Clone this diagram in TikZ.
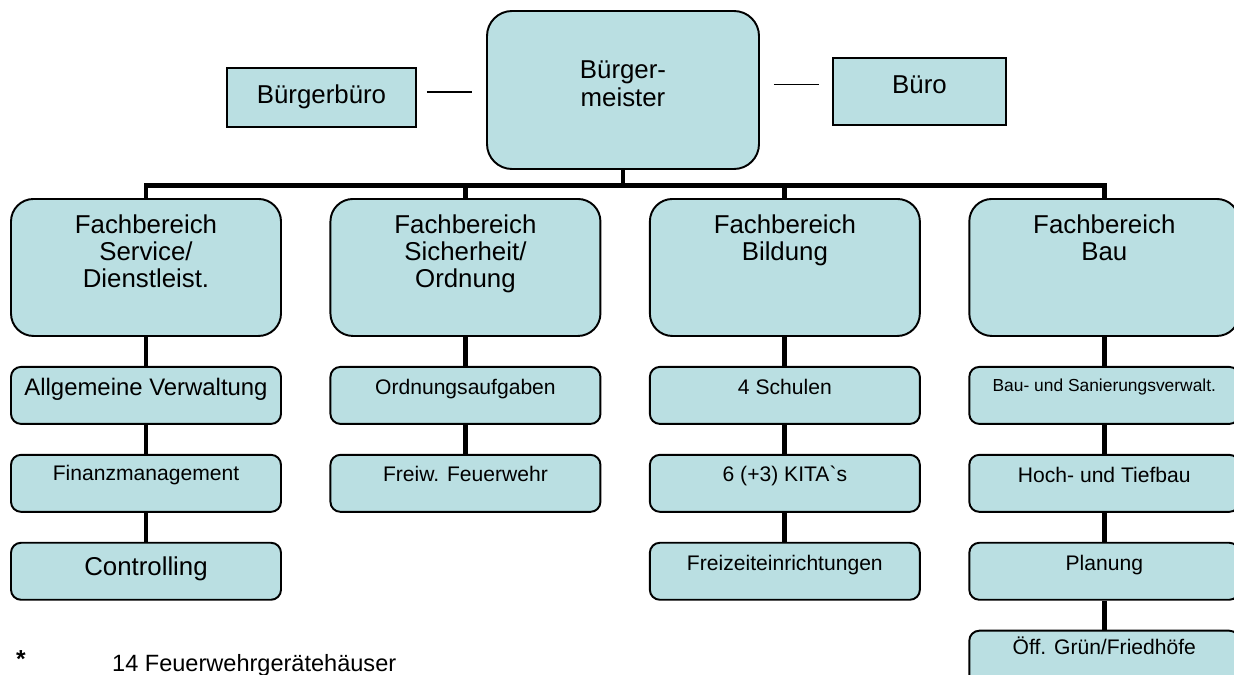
\documentclass[tikz,border=0pt]{standalone}
\usepackage{fontspec}
\setmainfont{Liberation Sans}
\usetikzlibrary{positioning}

\definecolor{boxfill}{RGB}{186,223,226}
\newcommand{\zeilen}[1]{\begin{tabular}[t]{@{}c@{}}#1\end{tabular}}

\begin{document}
\begin{tikzpicture}[
  box/.style={draw, fill=boxfill, line width=1.1pt, inner sep=0pt},
  chef/.style={box, rounded corners=0.5cm, minimum width=5.44cm,
    font=\fontsize{14.7}{16.4}\selectfont, text height=1.34cm, text depth=1.82cm},
  stab/.style={box, font=\fontsize{14.7}{16}\selectfont},
  fb/.style={box, rounded corners=0.45cm, minimum width=5.40cm,
    font=\fontsize{14.7}{15.3}\selectfont, text height=0.70cm, text depth=2.04cm},
  sub/.style={box, rounded corners=0.2cm, minimum width=5.40cm,
    font=\fontsize{12}{14}\selectfont, text height=0.56cm, text depth=0.58cm},
  bus/.style={line width=2.8pt},
  link/.style={line width=0.8pt}]

  \useasboundingbox (0,0) rectangle (24.68,-13.48);

  \node[chef] (bm) at (12.46,-1.80) {\zeilen{Bürger-\\meister}};
  \node[stab, minimum width=3.78cm, text height=0.70cm, text depth=0.48cm] (bbuero) at (6.43,-1.95) {Bürgerbüro};
  \node[stab, minimum width=3.46cm, text height=0.70cm, text depth=0.64cm] (buero) at (18.39,-1.83) {Büro};

  \node[fb, anchor=north] (fbservice) at (2.92,-3.96) {\zeilen{Fachbereich\\Service/\\Dienstleist.}};
  \node[fb, right=0.95cm of fbservice] (fbsicher) {\zeilen{Fachbereich\\Sicherheit/\\Ordnung}};
  \node[fb, right=0.95cm of fbsicher] (fbbildung) {\zeilen{Fachbereich\\Bildung}};
  \node[fb, right=0.95cm of fbbildung] (fbbau) {\zeilen{Fachbereich\\Bau}};

  \node[sub, below=0.58cm of fbservice, font=\fontsize{13.6}{16}\selectfont, text height=0.58cm, text depth=0.56cm] (verw) {Allgemeine Verwaltung};
  \node[sub, below=0.58cm of verw, text height=0.52cm, text depth=0.62cm] (finanz) {Finanzmanagement};
  \node[sub, below=0.58cm of finanz, font=\fontsize{14.7}{16}\selectfont, text height=0.66cm, text depth=0.48cm] (controlling) {Controlling};

  \node[sub, below=0.58cm of fbsicher] (ordnung) {Ordnungsaufgaben};
  \node[sub, below=0.58cm of ordnung, text height=0.54cm, text depth=0.60cm] (feuerwehr) {Freiw. Feuerwehr};

  \node[sub, below=0.58cm of fbbildung] (schulen) {4 Schulen};
  \node[sub, below=0.58cm of schulen, text height=0.54cm, text depth=0.60cm] (kita) {6 (+3) KITA{\addfontfeatures{Ligatures=TeXOff}`}s};
  \node[sub, below=0.58cm of kita] (freizeit) {Freizeiteinrichtungen};

  \node[sub, below=0.58cm of fbbau, font=\fontsize{9.9}{12}\selectfont, text height=0.50cm, text depth=0.64cm] (sanierung) {Bau- und Sanierungsverwalt.};
  \node[sub, below=0.58cm of sanierung] (hochtief) {Hoch- und Tiefbau};
  \node[sub, below=0.58cm of hochtief] (planung) {Planung};
  \node[sub, below=0.58cm of planung, text height=0.48cm, text depth=0.66cm] (gruen) {Öff. Grün/Friedhöfe};

  \node[anchor=base west, font=\bfseries\fontsize{14}{16}\selectfont] (stern) at (0.20,-13.34) {*};
  \node[anchor=base west, font=\fontsize{13.4}{16}\selectfont] (fussnote) at (2.12,-13.42) {14 Feuerwehrgerätehäuser};

  \coordinate (bus) at ([yshift=-0.31cm]bm.south);
  \draw[bus] (bm.south) -- (bus);
  \foreach \f in {fbservice,fbsicher,fbbildung,fbbau}
    \draw[bus] (bus) -| (\f.north);

  \draw[bus] (fbservice) -- (verw) -- (finanz) -- (controlling);
  \draw[bus] (fbsicher) -- (ordnung) -- (feuerwehr);
  \draw[bus] (fbbildung) -- (schulen) -- (kita) -- (freizeit);
  \draw[bus] (fbbau) -- (sanierung) -- (hochtief) -- (planung) -- (gruen);

  \draw[link, shorten <=0.2cm, shorten >=0.28cm] ([yshift=0.11cm]bbuero.east) -- ([yshift=0.11cm]bbuero.east -| bm.west);
  \draw[link, shorten <=0.28cm, shorten >=0.26cm] ([yshift=0.14cm]buero.west -| bm.east) -- ([yshift=0.14cm]buero.west);
\end{tikzpicture}
\end{document}
